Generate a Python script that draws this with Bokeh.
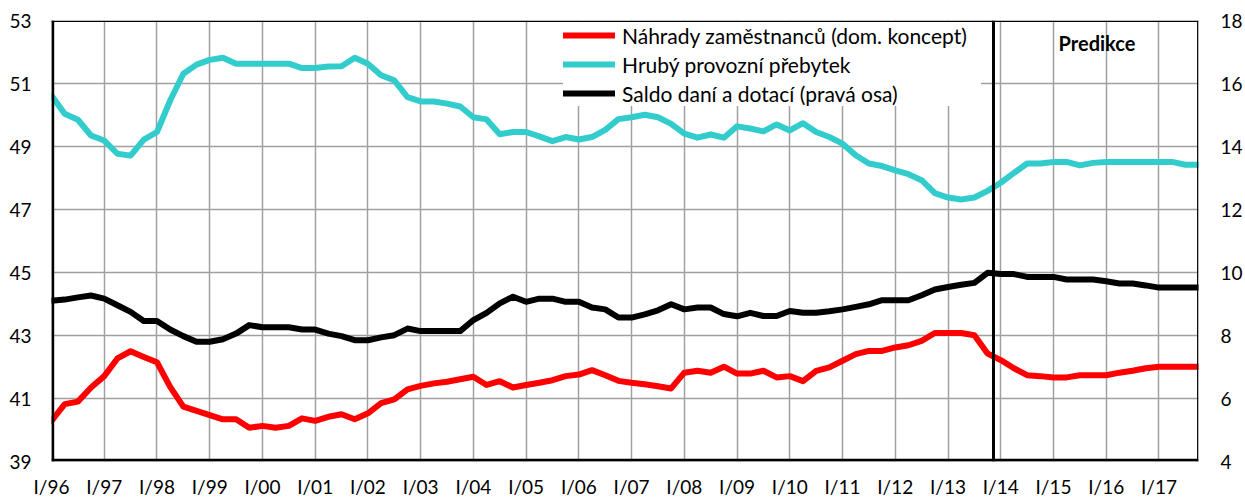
from bokeh.plotting import figure
from bokeh.models import Range1d, LinearAxis, FixedTicker, Legend, LegendItem, Span, Label
from bokeh.embed import file_html
from bokeh.resources import INLINE

years = ["96", "97", "98", "99", "00", "01", "02", "03", "04", "05", "06",
         "07", "08", "09", "10", "11", "12", "13", "14", "15", "16", "17"]
roman = ["I", "II", "III", "IV"]
quarter_labels = [f"{q}/{y}" for y in years for q in roman]

nahrady = [40.29, 40.82, 40.90, 41.35, 41.71, 42.27, 42.50, 42.32, 42.15, 41.37,
           40.74, 40.61, 40.47, 40.34, 40.34, 40.07, 40.13, 40.07, 40.13, 40.37,
           40.29, 40.42, 40.50, 40.34, 40.53, 40.85, 40.97, 41.29, 41.40, 41.48,
           41.53, 41.61, 41.69, 41.43, 41.55, 41.35, 41.43, 41.50, 41.58, 41.71,
           41.76, 41.90, 41.74, 41.56, 41.50, 41.45, 41.39, 41.32, 41.82, 41.88,
           41.82, 42.01, 41.79, 41.79, 41.88, 41.67, 41.71, 41.55, 41.88, 41.99,
           42.20, 42.41, 42.51, 42.51, 42.62, 42.69, 42.83, 43.08, 43.08, 43.08,
           43.01, 42.43, 42.22, 41.96, 41.74, 41.71, 41.67, 41.67, 41.74, 41.74,
           41.74, 41.82, 41.88, 41.96, 42.01, 42.01, 42.01, 42.01]

hpp = [50.62, 50.04, 49.85, 49.35, 49.19, 48.77, 48.71, 49.22, 49.46, 50.46,
       51.31, 51.60, 51.75, 51.82, 51.63, 51.63, 51.63, 51.63, 51.63, 51.49,
       51.49, 51.54, 51.55, 51.82, 51.63, 51.26, 51.10, 50.57, 50.43, 50.43,
       50.36, 50.27, 49.93, 49.86, 49.39, 49.46, 49.46, 49.32, 49.17, 49.30,
       49.22, 49.30, 49.53, 49.87, 49.93, 50.01, 49.93, 49.72, 49.41, 49.28,
       49.38, 49.28, 49.64, 49.57, 49.48, 49.70, 49.51, 49.74, 49.46, 49.30,
       49.09, 48.72, 48.46, 48.38, 48.24, 48.12, 47.93, 47.52, 47.38, 47.32,
       47.38, 47.59, 47.85, 48.16, 48.46, 48.46, 48.51, 48.51, 48.40, 48.48,
       48.51, 48.51, 48.51, 48.51, 48.51, 48.51, 48.42, 48.42]

saldo = [9.10, 9.14, 9.21, 9.27, 9.17, 8.96, 8.75, 8.46, 8.46, 8.19,
         7.98, 7.80, 7.80, 7.88, 8.06, 8.33, 8.26, 8.26, 8.26, 8.19,
         8.19, 8.06, 7.98, 7.85, 7.85, 7.94, 8.01, 8.22, 8.14, 8.14,
         8.14, 8.14, 8.49, 8.72, 9.02, 9.23, 9.07, 9.17, 9.17, 9.07,
         9.07, 8.89, 8.83, 8.57, 8.57, 8.67, 8.80, 8.99, 8.83, 8.89,
         8.89, 8.68, 8.61, 8.72, 8.62, 8.62, 8.78, 8.72, 8.72, 8.77,
         8.83, 8.91, 8.99, 9.12, 9.12, 9.12, 9.28, 9.46, 9.54, 9.61,
         9.67, 9.99, 9.95, 9.95, 9.86, 9.86, 9.86, 9.78, 9.78, 9.78,
         9.72, 9.65, 9.65, 9.59, 9.52, 9.52, 9.52, 9.52]

left_ticks = [39, 41, 43, 45, 47, 49, 51, 53]
right_ticks = [4, 6, 8, 10, 12, 14, 16, 18]
series_names = ["Náhrady zaměstnanců (dom. koncept)",
                "Hrubý provozní přebytek",
                "Saldo daní a dotací (pravá osa)"]
forecast_start = "I/14"

x = list(range(len(quarter_labels)))
year_ticks = [i for i, q in enumerate(quarter_labels) if q.startswith("I/")]
overrides = {i: quarter_labels[i] for i in year_ticks}
x_first, x_last = x[0], x[-1]

FONT = "Lato"
W, H = 1245, 500
BL, BR, BT, BB = 51, 45, 20, 39
frame_w = W - BL - BR
frame_h = H - BT - BB
px_x = (x_last - x_first) / frame_w
px_y = (left_ticks[-1] - left_ticks[0]) / frame_h

p = figure(width=W, height=H,
           x_range=Range1d(x_first, x_last), y_range=Range1d(left_ticks[0], left_ticks[-1]),
           output_backend="svg", toolbar_location=None,
           min_border_left=BL, min_border_right=BR, min_border_top=BT, min_border_bottom=BB)
p.extra_y_ranges = {"right": Range1d(right_ticks[0], right_ticks[-1])}

p.background_fill_color = None
p.border_fill_color = None
p.outline_line_color = None

p.xaxis.ticker = FixedTicker(ticks=year_ticks)
p.xaxis.major_label_overrides = overrides
p.yaxis.ticker = FixedTicker(ticks=left_ticks)

ax_r = LinearAxis(y_range_name="right", ticker=FixedTicker(ticks=right_ticks))
p.add_layout(ax_r, "right")

for ax in p.axis:
    ax.axis_line_color = None
    ax.major_tick_line_color = None
    ax.minor_tick_line_color = None
    ax.major_tick_out = 0
    ax.major_tick_in = 0
    ax.minor_tick_out = 0
    ax.minor_tick_in = 0
    ax.major_label_text_font = FONT
    ax.major_label_text_font_size = "19px"
    ax.major_label_text_color = "black"

p.xaxis.major_label_standoff = 13
p.yaxis[0].major_label_standoff = 20
ax_r.major_label_standoff = 22

p.xgrid.ticker = FixedTicker(ticks=year_ticks)
p.ygrid.ticker = FixedTicker(ticks=left_ticks)
p.xgrid.grid_line_color = "#a0a0a0"
p.xgrid.grid_line_width = 1.5
p.ygrid.grid_line_color = "#a0a0a0"
p.ygrid.grid_line_width = 1.5

r1 = p.line(x, nahrady, line_color="#ff0000", line_width=6, line_join="round", line_cap="round")
r2 = p.line(x, hpp, line_color="#33cccc", line_width=6, line_join="round", line_cap="round")
r3 = p.line(x, saldo, line_color="black", line_width=6, line_join="round", line_cap="round",
            y_range_name="right")

# frame borders (left/bottom thick, top/right thin), nudged just inside the frame
p.add_layout(Span(location=x_first + 1.2 * px_x, dimension="height", line_color="black", line_width=3))
p.add_layout(Span(location=left_ticks[0] + 1.2 * px_y, dimension="width", line_color="black", line_width=3))
p.add_layout(Span(location=left_ticks[-1] - 0.7 * px_y, dimension="width", line_color="black", line_width=1.5))
p.add_layout(Span(location=x_last - 0.7 * px_x, dimension="height", line_color="black", line_width=1.5))

fidx = quarter_labels.index(forecast_start)
p.add_layout(Span(location=fidx - 0.55, dimension="height", line_color="black", line_width=3))

p.add_layout(Label(x=79.3, y=52.27, text="Predikce", text_font=FONT, text_font_style="bold",
                   text_font_size="20px", text_align="center", text_baseline="middle",
                   text_color="black"))

legend = Legend(items=[LegendItem(label=series_names[0], renderers=[r1]),
                       LegendItem(label=series_names[1], renderers=[r2]),
                       LegendItem(label=series_names[2], renderers=[r3])],
                location=(512, 355), padding=4, spacing=3, margin=0,
                glyph_width=52, glyph_height=26, label_height=26, label_standoff=7,
                label_width=359, label_text_font=FONT, label_text_font_size="21px",
                label_text_color="black",
                background_fill_color="white", background_fill_alpha=1.0,
                border_line_color=None)
p.add_layout(legend)

open("out.html", "w").write(file_html(p, INLINE))
